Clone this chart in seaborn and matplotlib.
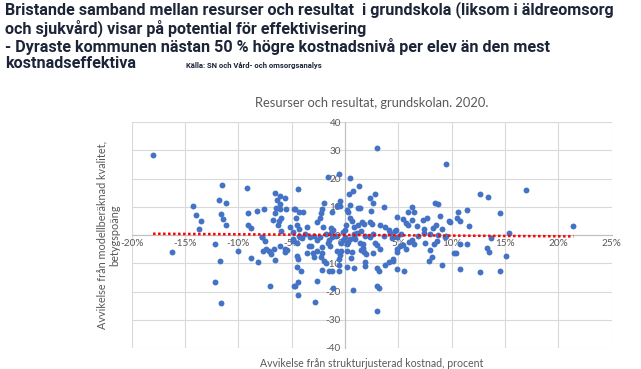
import seaborn as sns
import matplotlib.pyplot as plt
import pandas as pd
from matplotlib.ticker import PercentFormatter, MultipleLocator

# deviation from structure-adjusted cost (%) and from modelled quality (grade points)
cost_dev = [
    -18.0, -14.3, -14.0, -13.5, -13.7, -11.5, -11.8, -11.2, -11.6, -11.4, -11.2, -9.2,
    -9.1, -9.1, -8.8, -8.25, -7.6, -7.8, -6.6, -6.1, -5.6, -6.4, -6.1, -6.5,
    -6.1, -5.5, -6.6, -6.0, -6.2, -6.8, -6.25, -6.0, -5.2, -4.85, -4.8, -4.9,
    # upper middle
    -4.4, -4.7, -4.3, -3.9, -4.6, -4.5, -4.3, -3.6, -4.3, -2.65, -2.4, -2.25,
    -2.15, -2.0, -2.1, -1.65, -1.2, -1.3, -1.1, -0.8, -0.5, -0.5, -0.6, 0.5,
    0.4, 0.7, 1.3, 0.15, 0.3, 0.5, 0.0, 0.1, 0.6, 0.8, 0.5, 1.2,
    1.4, 1.6, 1.75, 1.25, 1.5, 0.8, 2.3, 2.65, 2.8, 2.4, 2.35, 2.5,
    3.0, 3.3, 3.65, 3.75, 4.15, 4.85, 4.8, 4.9, 5.4, 5.7, 5.9, 5.9,
    6.3, 6.5, 6.25, 6.7, 7.3, 7.65, 7.35, 8.0, 8.4, 8.75, 8.85, 8.5,
    8.2, 9.1, 9.5, 9.7, 9.4, 8.75,
    # upper right
    9.85, 10.6, 10.5, 10.8, 11.4, 11.65, 12.6, 13.4, 14.5, 15.4, 17.0, 21.4, 13.65,
    # lower left
    -16.2, -12.2, -11.75, -12.2, -11.6, -10.0, -8.8, -8.2, -7.8, -7.55, -7.7, -7.4,
    -7.15, -6.9, -6.65, -6.6, -6.1, -5.65, -5.6, -5.4, -4.9, -7.0, -4.8,
    # lower middle
    -4.85, -4.5, -4.2, -4.5, -4.4, -4.5, -4.1, -4.4, -4.65, -4.4, -3.6, -3.4,
    -3.15, -3.3, -3.0, -2.9, -2.65, -2.65, -2.4, -2.15, -2.2, -2.3, -2.0, -1.8,
    -2.2, -2.6, -2.8, -1.65, -1.4, -1.5, -1.2, -1.35, -0.8, -0.5, -0.55, -0.55,
    -1.2, -0.55, -1.1, -0.4, -0.2, 0.0, 0.15, 0.3, 0.5, 0.2, 0.6, 0.55,
    0.15, 0.8, 0.7, 0.95, 1.4, 1.65, 1.5, 1.8, 2.0, 2.3, 2.65, 2.8,
    3.0, 3.3, 1.9, 1.85, 3.0, 3.2, 3.0, 3.2, 3.0, 3.75, 4.1, 4.5,
    4.5, 4.9, 5.1, 4.85, 4.9, 5.55, 5.4, 5.7, 6.0, 6.25, 6.5, 4.2,
    4.7, 7.35, 7.5, 7.97, 7.9, 8.1, 8.3, 8.65, 9.05, 9.5, 10.2, -1.55,
    1.7, -0.35,
    # lower right
    10.4, 10.8, 11.4, 10.8, 12.6, 13.3, 13.5, 14.5, 15.1,
    # around the zero line
    -3.8, -2.9, -1.8, -0.9, 0.8, 1.9, 2.6, 3.6, 5.2, 6.8, -0.2, 1.1, -4.0, 4.4,
]
quality_dev = [
    28.5, 10.2, 7.1, 5.1, 2.2, 17.9, 12.5, 11.3, 7.5, 5.6, 3.5, 16.6,
    7.8, 3.6, 2.5, 8.6, 9.3, -0.6, 14.9, 14.0, 13.3, 12.5, 11.1, 9.7,
    9.2, 9.1, 7.7, 6.0, 5.1, 5.3, 3.6, 1.5, 2.9, 1.2, 9.3, -1.3,
    16.2, 9.4, 8.2, 8.2, 6.1, 3.5, 2.0, 2.7, -0.4, 4.5, 6.2, 7.7,
    9.3, 11.4, 2.7, 20.4, 8.2, 2.6, 1.8, 10.2, 11.9, 10.2, 21.5, 20.2,
    14.7, 15.5, 17.3, 8.8, 8.2, 10.5, 1.8, 3.5, 5.1, 2.9, 6.2, 9.5,
    9.5, 4.8, 4.0, 3.5, 1.4, -0.8, 13.3, 11.5, 14.5, 8.4, 4.7, 3.9,
    31.0, 3.5, 9.9, 2.7, 1.8, 6.5, 1.8, -0.6, 5.6, 4.4, 3.5, 8.2,
    10.0, 8.1, 5.3, 3.2, 5.2, 5.9, 2.0, 0.35, 11.4, 10.9, 6.8, 3.5,
    2.6, 2.2, 25.0, 4.9, -0.6, -0.1,
    4.7, 8.1, 6.0, 5.1, 8.7, 3.1, 14.7, 13.5, 7.9, 0.6, 16.1, 3.3, -1.2,
    -6.0, -3.3, -9.1, -16.5, -23.9, -5.5, -8.2, -9.4, -0.6, -2.0, -5.8, -4.9,
    -5.5, -6.7, -5.1, -8.7, -3.8, -4.9, -6.0, -5.3, -2.0, -18.2, -18.2,
    -1.8, -2.7, -0.6, -7.4, -8.6, -11.4, -12.7, -16.7, -18.2, -21.2, -6.2, -3.9,
    -3.9, -0.6, -6.5, -7.9, -5.5, -1.8, -0.8, -4.1, -6.2, -7.6, -9.1, -10.0,
    -12.4, -16.1, -23.6, -2.9, -3.9, -1.8, -0.6, 0.8, -5.5, -7.1, -8.6, -10.7,
    -12.7, -12.7, -18.8, -2.9, -1.8, -0.6, -3.2, -2.4, -1.5, -5.5, -5.9, -8.2,
    -11.4, -11.8, -19.4, -1.5, -2.9, -3.2, -5.3, -5.9, -6.7, -0.6, -6.2, -2.7,
    -3.5, -5.1, -9.4, -10.9, -11.8, -12.9, -18.0, -18.6, -26.8, -10.6, -9.4, -8.6,
    -9.2, -5.1, -3.9, -5.9, -12.1, -12.9, -3.5, -5.1, -2.4, -1.8, -3.2, 0.8,
    1.5, 0.6, -2.7, -5.3, -9.1, -7.6, -3.2, -2.0, -10.6, -0.4, -6.5, -12.9,
    -4.7, -5.6,
    -6.5, -3.1, -3.1, -12.1, -13.2, -4.6, -6.0, -12.8, -7.4,
    0.3, -0.2, 0.5, -0.3, 0.2, -0.4, 0.4, -0.2, 0.3, -0.5, 1.0, 0.9, -1.0, -1.0,
]

df = pd.DataFrame({"cost": cost_dev, "quality": quality_dev})

sns.set_style("white")
plt.rcParams['font.family'] = ['Lato', 'DejaVu Sans']
plt.rcParams['axes.unicode_minus'] = False

grey = '#595959'
navy = '#1c2437'
fig = plt.figure(figsize=(6.41, 3.69), dpi=100)
ax = fig.add_axes([0.2055, 0.057, 0.749, 0.612])

sns.scatterplot(data=df, x="cost", y="quality", ax=ax, color='#4472C4',
                s=18, linewidth=0, zorder=3)
sns.regplot(data=df, x="cost", y="quality", ax=ax, scatter=False, ci=None,
            line_kws={'color': '#ff0000', 'linestyle': (0, (1, 1)), 'linewidth': 1.8, 'zorder': 4})

ax.set_xlim(-20, 25)
ax.set_ylim(-40, 40)
ax.xaxis.set_major_locator(MultipleLocator(5))
ax.yaxis.set_major_locator(MultipleLocator(10))
ax.xaxis.set_major_formatter(PercentFormatter(xmax=100, decimals=0))

# axes cross at the origin like in Excel
ax.spines['left'].set_position(('data', 0))
ax.spines['bottom'].set_position(('data', 0))
for s in ['top', 'right']:
    ax.spines[s].set_visible(False)
for s in ['left', 'bottom']:
    ax.spines[s].set_color('#bfbfbf')
    ax.spines[s].set_linewidth(0.8)
ax.grid(True, color='#d9d9d9', linewidth=0.8)
ax.set_axisbelow(True)
ax.tick_params(length=0, labelsize=7.2, labelcolor=grey, pad=3)
ax.set_xlabel("")
ax.set_ylabel("")

ax.set_title("Resurser och resultat, grundskolan. 2020.", fontsize=9.3, color=grey, pad=11)
ax.text(0.5, -0.045, "Avvikelse från strukturjusterad kostnad, procent", transform=ax.transAxes,
        ha='center', va='top', fontsize=7.6, color=grey)
ax.text(-0.024, 0.5, "Avvikelse från modellberäknad kvalitet,\nbetygspoäng", transform=ax.transAxes,
        ha='right', va='center', rotation=90, fontsize=7.8, color=grey, multialignment='center')

# slide heading
head_font = dict(ha='left', fontweight='bold', color=navy, family=['Roboto', 'DejaVu Sans'])
fig.text(0.008, 0.998,
         "Bristande samband mellan resurser och resultat  i grundskola (liksom i äldreomsorg\n"
         "och sjukvård) visar på potential för effektivisering\n"
         "- Dyraste kommunen nästan 50 % högre kostnadsnivå per elev än den mest",
         va='top', fontsize=11.6, linespacing=1.1, **head_font)
fig.text(0.008, 0.828, "kostnadseffektiva", va='center', fontsize=11.6, **head_font)
fig.text(0.29, 0.822, "Källa: SN och Vård- och omsorgsanalys", va='center', fontsize=5.5,
         **head_font)

plt.savefig("out.png", dpi=100)
